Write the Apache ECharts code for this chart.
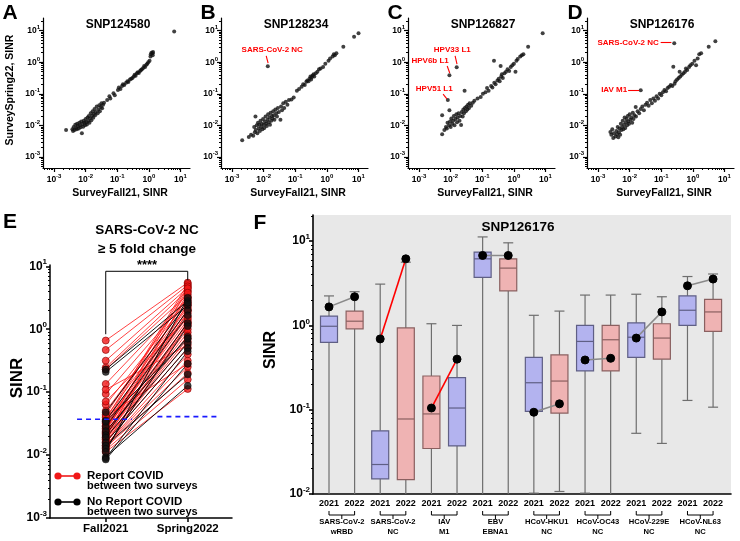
<!DOCTYPE html>
<html>
<head>
<meta charset="utf-8">
<script src="https://cdn.jsdelivr.net/npm/echarts@6/dist/echarts.min.js"></script>
<style>
html, body { margin: 0; background: #fff; }
#chart { width: 740px; height: 541px; }
</style>
</head>
<body>
<div id="chart"></div>
<script>
var FONT = "'Liberation Sans', Arial, sans-serif";

// panels A-D: [log10 SurveyFall21 SINR, log10 SurveySpring22 SINR]
var snpA = [[-2.62,-2.15],[-2.42,-2.12],[-2.40,-2.18],[-2.38,-2.05],[-2.35,-2.15],[-2.33,-1.98],[-2.30,-2.08],[-2.28,-2.12],
  [-2.27,-1.95],[-2.25,-2.02],[-2.22,-2.10],[-2.20,-1.92],[-2.18,-2.00],[-2.16,-2.06],[-2.14,-1.88],[-2.12,-2.25],[-2.10,-1.96],
  [-2.08,-2.04],[-2.06,-1.85],[-2.04,-1.92],[-2.02,-2.00],[-2.00,-1.80],[-1.98,-1.90],[-1.96,-1.97],[-1.94,-1.75],[-1.92,-1.86],
  [-1.90,-1.70],[-1.88,-1.92],[-1.86,-1.78],[-1.84,-1.62],[-1.82,-1.84],[-1.80,-1.70],[-1.78,-1.55],[-1.76,-1.76],[-1.74,-1.64],
  [-1.72,-1.48],[-1.70,-1.68],[-1.68,-1.58],[-1.65,-1.40],[-1.62,-1.62],[-1.60,-1.50],[-1.57,-1.36],[-1.55,-1.55],[-1.52,-1.42],
  [-1.50,-1.30],[-1.48,-1.46],[-1.45,-1.35],[-1.42,-1.28],[-1.32,-1.20],[-1.25,-1.08],[-1.22,-1.15],[-1.12,-0.98],[-1.08,-1.05],
  [-0.98,-0.88],[-0.95,-0.80],[-0.90,-0.85],[-0.85,-0.75],[-0.82,-0.70],[-0.78,-0.72],[-0.72,-0.65],[-0.68,-0.60],[-0.65,-0.63],
  [-0.60,-0.55],[-0.56,-0.52],[-0.52,-0.50],[-0.48,-0.45],[-0.45,-0.40],[-0.42,-0.43],[-0.38,-0.35],[-0.35,-0.32],[-0.32,-0.34],
  [-0.28,-0.28],[-0.25,-0.25],[-0.22,-0.22],[-0.18,-0.18],[-0.15,-0.12],[-0.12,-0.15],[-0.08,-0.08],[-0.05,-0.05],[-0.02,0.00],
  [0.02,0.05],[0.05,0.18],[0.06,0.25],[0.08,0.30],[0.12,0.22],[0.12,0.28],[0.13,0.32],[0.80,0.97]];
var snpB = [[-2.68,-2.47],[-2.47,-2.37],[-2.40,-2.30],[-2.33,-2.33],[-2.30,-2.05],[-2.28,-2.22],[-2.25,-2.15],[-2.26,-1.72],
  [-2.22,-2.00],[-2.20,-2.25],[-2.18,-1.92],[-2.16,-2.10],[-2.14,-1.98],[-2.12,-2.18],[-2.10,-1.85],[-2.08,-2.05],[-2.06,-1.95],
  [-2.04,-2.12],[-2.02,-1.80],[-2.00,-1.98],[-1.98,-2.08],[-1.96,-1.88],[-1.94,-1.72],[-1.92,-1.95],[-1.90,-2.02],[-1.88,-1.82],
  [-1.86,-1.65],[-1.84,-1.90],[-1.82,-1.75],[-1.80,-1.98],[-1.78,-1.60],[-1.76,-1.85],[-1.74,-1.70],[-1.72,-1.78],[-1.70,-1.55],
  [-1.68,-1.68],[-1.66,-1.82],[-1.63,-1.50],[-1.60,-1.62],[-1.58,-1.72],[-1.55,-1.45],[-1.52,-1.58],[-1.47,-1.82],[-1.45,-1.40],
  [-1.42,-1.52],[-1.38,-1.30],[-1.35,-1.45],[-1.30,-1.25],[-1.25,-1.35],[-1.20,-1.20],[-1.12,-1.18],[-1.05,-1.12],[-0.95,-0.90],
  [-0.88,-0.85],[-0.80,-0.78],[-0.75,-0.70],[-0.70,-0.72],[-0.65,-0.62],[-0.62,-0.58],[-0.58,-0.60],[-0.55,-0.52],[-0.52,-0.45],
  [-0.50,-0.55],[-0.48,-0.48],[-0.45,-0.42],[-0.42,-0.38],[-0.40,-0.45],[-0.35,-0.35],[-0.30,-0.30],[-0.25,-0.22],[-0.20,-0.20],
  [-0.12,-0.15],[-0.05,-0.05],[0.05,0.05],[0.10,0.12],[0.18,0.18],[0.22,0.25],[0.25,0.22],[0.30,0.28],[0.52,0.49],[0.86,0.81],
  [1.00,0.92],[-1.87,-0.13]];
var snpC = [[-2.27,-2.28],[-2.20,-2.15],[-2.15,-2.05],[-2.27,-1.68],[-2.12,-2.10],[-2.10,-1.92],[-2.05,-2.00],[-2.04,-1.52],
  [-2.02,-1.88],[-2.00,-2.05],[-1.98,-1.78],[-1.95,-1.95],[-1.92,-1.85],[-1.90,-1.70],[-1.88,-2.00],[-1.85,-1.80],[-1.82,-1.65],
  [-1.80,-1.90],[-1.78,-1.75],[-1.75,-1.62],[-1.72,-1.85],[-1.70,-1.70],[-1.67,-1.99],[-1.65,-1.58],[-1.62,-1.72],[-1.60,-1.50],
  [-1.58,-1.62],[-1.55,-1.45],[-1.52,-1.55],[-1.50,-1.40],[-1.47,-1.50],[-1.45,-1.35],[-1.42,-1.45],[-1.40,-1.30],[-1.35,-1.38],
  [-1.30,-1.28],[-1.25,-1.22],[-1.56,-0.90],[-1.15,-1.15],[-1.05,-1.10],[-0.98,-1.00],[-0.90,-0.95],[-0.85,-0.82],[-0.80,-0.90],
  [-0.72,-0.75],[-0.68,-0.80],[-0.62,-0.65],[-0.58,-0.70],[-0.52,-0.58],[-0.48,-0.52],[-0.45,-0.60],[-0.40,-0.45],[-0.38,-0.38],
  [-0.35,-0.50],[-0.30,-0.35],[-0.25,-0.30],[-0.20,-0.22],[-0.15,-0.28],[-0.10,-0.15],[-0.05,-0.10],[-0.63,0.05],[-0.42,-0.12],
  [0.00,-0.05],[0.05,-0.30],[0.08,0.05],[0.12,0.10],[0.20,0.18],[0.25,0.22],[0.30,0.25],[0.45,0.49],[0.91,0.92],
  [-1.81,-0.16],[-2.04,-0.41],[-2.09,-1.20]];
var snpD = [[-2.61,-2.21],[-2.58,-2.30],[-2.55,-2.12],[-2.52,-2.40],[-2.50,-2.25],[-2.45,-2.35],[-2.42,-2.18],[-2.40,-2.28],
  [-2.38,-2.05],[-2.36,-2.38],[-2.34,-2.22],[-2.32,-2.10],[-2.30,-2.30],[-2.28,-1.95],[-2.26,-2.15],[-2.24,-2.05],[-2.22,-1.85],
  [-2.20,-2.12],[-2.18,-1.98],[-2.16,-1.75],[-2.14,-2.08],[-2.12,-1.90],[-2.10,-1.80],[-2.08,-2.00],[-2.06,-1.70],[-2.04,-1.88],
  [-2.02,-1.95],[-2.00,-1.65],[-1.98,-1.82],[-1.95,-1.75],[-1.92,-1.92],[-1.90,-1.60],[-1.88,-1.80],[-1.85,-1.68],[-1.81,-1.42],
  [-1.80,-1.72],[-1.75,-1.55],[-1.70,-1.62],[-1.65,-1.48],[-1.60,-1.40],[-1.55,-1.52],[-1.50,-1.35],[-1.45,-1.28],[-1.40,-1.38],
  [-1.35,-1.20],[-1.30,-1.30],[-1.25,-1.15],[-1.20,-1.22],[-1.15,-1.08],[-1.10,-1.15],[-1.05,-1.00],[-1.00,-1.05],[-0.95,-0.95],
  [-0.90,-0.88],[-0.85,-0.92],[-0.80,-0.82],[-0.75,-0.78],[-0.70,-0.72],[-0.65,-0.75],[-0.62,-0.14],[-0.58,-0.68],[-0.55,-0.60],
  [-0.50,-0.55],[-0.45,-0.50],[-0.42,-0.30],[-0.40,-0.45],[-0.35,-0.40],[-0.30,-0.35],[-0.25,-0.30],[-0.22,-0.20],[-0.18,-0.25],
  [-0.12,-0.15],[-0.08,-0.10],[-0.02,-0.05],[0.05,0.05],[0.10,-0.10],[0.15,0.12],[0.20,0.25],[0.26,0.28],[0.50,0.49],[0.71,0.66],
  [-0.59,0.60],[-1.65,-0.89]];
var scatterTitles = ['SNP124580', 'SNP128234', 'SNP126827', 'SNP126176'];
var decades = [-3, -2, -1, 0, 1];

// panel E: log10 SINR, Fall2021 -> Spring2022
var eRedFall = [-0.18,-0.33,-0.50,-0.61,-0.64,-0.87,-1.03,-1.20,-1.30,-1.36,-1.40,-1.44,-1.47,-1.48,-1.50,-1.53,-1.55,-1.57,
  -1.58,-1.60,-1.62,-1.64,-1.65,-1.66,-1.68,-1.70,-1.72,-1.74,-1.75,-1.76,-1.78,-1.80,-1.82,-1.84,-1.85,-1.86,-1.88,-1.90,-1.92,
  -1.95,-0.96,-1.15,-1.38];
var eRedSpring = [0.74,0.70,0.66,0.62,0.55,0.50,0.48,0.45,0.42,0.60,0.38,0.72,0.35,0.68,0.30,0.25,0.52,0.20,
  0.15,0.65,0.40,0.10,0.05,0.32,0.00,-0.05,0.58,-0.10,-0.15,0.28,-0.20,-0.30,0.12,-0.40,-0.50,-0.60,-0.70,0.08,-0.80,
  -0.95,-0.25,0.18,-0.55];
var eBlackFall = [-0.64,-0.68,-1.32,-1.45,-1.55,-1.62,-1.68,-1.72,-1.80,-1.85,-1.90,-2.03,-2.05,-2.07,-1.47,-1.95];
var eBlackSpring = [0.45,0.38,0.42,0.30,0.22,-0.12,0.10,-0.22,-0.30,-0.72,0.05,-0.90,-0.35,-0.55,-0.15,0.50];
var eCutoff = [-1.43, -1.39];

// panel F: SNP126176 box stats, log10 [min, q1, median, q3, max]
var fYears = ['2021','2022','2021','2022','2021','2022','2021','2022','2021','2022','2021','2022','2021','2022','2021','2022'];
var fGroups = ['SARS-CoV-2\nwRBD', 'SARS-CoV-2\nNC', 'IAV\nM1', 'EBV\nEBNA1', 'HCoV-HKU1\nNC', 'HCoV-OC43\nNC', 'HCoV-229E\nNC', 'HCoV-NL63\nNC'];
var fBoxes = [
  [-2.2, -0.20, -0.01, 0.11, 0.35], [-2.2, -0.04, 0.05, 0.17, 0.40],
  [-2.2, -1.82, -1.65, -1.25, 0.49], [-2.2, -1.83, -1.11, -0.03, 0.75],
  [-2.2, -1.46, -1.05, -0.60, 0.02], [-2.2, -1.43, -0.98, -0.62, 0.00],
  [-2.2, 0.57, 0.79, 0.87, 1.05], [-2.2, 0.41, 0.68, 0.79, 0.98],
  [-1.99, -1.02, -0.68, -0.38, 0.12], [-1.97, -1.04, -0.66, -0.35, 0.17],
  [-1.99, -0.54, -0.19, 0.00, 0.36], [-2.2, -0.54, -0.17, 0.00, 0.36],
  [-1.28, -0.38, -0.14, 0.03, 0.37], [-1.40, -0.40, -0.15, 0.02, 0.34],
  [-0.89, 0.00, 0.18, 0.35, 0.58], [-0.97, -0.07, 0.16, 0.31, 0.61]];
var fBoxTone = ['b','p','b','p','p','b','b','p','b','p','b','p','b','p','b','p'];
var fSample = [0.22, 0.34, -0.16, 0.79, -0.98, -0.40, 0.83, 0.83, -1.03, -0.93, -0.41, -0.39, -0.15, 0.16, 0.47, 0.55];
var fPairColor = ['#8a8a8a', '#ff0000', '#ff0000', '#8a8a8a', '#8a8a8a', '#8a8a8a', '#8a8a8a', '#8a8a8a'];

var chart = echarts.init(document.getElementById('chart'));

function decadeLabel(fs) {
    var sub = Math.round(fs * 0.68);
    return {
        formatter: function (v) { return '{b|10}{s|' + Math.round(v) + '}'; },
        rich: {
            b: {fontFamily: FONT, fontWeight: 'bold', fontSize: fs, lineHeight: fs + 4, color: '#000'},
            s: {fontFamily: FONT, fontWeight: 'bold', fontSize: sub, lineHeight: sub, verticalAlign: 'top', color: '#000'}
        }
    };
}
function minorTicks(lo, hi) {
    var out = [];
    for (var d = Math.floor(lo); d < hi; d++) {
        for (var k = 2; k < 10; k++) {
            var v = d + Math.log10(k);
            if (v > lo && v < hi) out.push(v);
        }
    }
    return out;
}
function logAxis(grid, pos, ext, fs, margin, lw) {
    var label = decadeLabel(fs);
    label.show = true;
    label.customValues = decades.filter(function (d) { return d >= ext[0] && d <= ext[1]; });
    label.margin = margin;
    return {
        gridIndex: grid, type: 'value', position: pos, min: ext[0], max: ext[1],
        axisLine: {show: true, onZero: false, lineStyle: {color: '#000', width: lw}},
        axisTick: {show: true, customValues: label.customValues, length: 4, lineStyle: {color: '#000', width: lw}},
        axisLabel: label,
        splitLine: {show: false}
    };
}
function minorAxis(grid, pos, ext, lw) {
    return {
        gridIndex: grid, type: 'value', position: pos, min: ext[0], max: ext[1],
        axisLine: {show: false, onZero: false},
        axisTick: {show: true, customValues: minorTicks(ext[0], ext[1]), length: 2, lineStyle: {color: '#000', width: lw}},
        axisLabel: {show: false},
        splitLine: {show: false}
    };
}

var grids = [], xAxes = [], yAxes = [], series = [];
var scatterLeft = [43, 221, 408, 587];
var scatterSets = [snpA, snpB, snpC, snpD];
var xExt = [-3.35, 1.3], yExt = [-3.35, 1.4];

// annotations in data coordinates (label centre, arrow start, arrow end)
var notes = [
    [],
    [{text: 'SARS-CoV-2 NC', at: [-1.73, 0.39], from: [-1.92, 0.20], to: [-1.86, -0.03]}],
    [{text: 'HPV33 L1', at: [-1.95, 0.39], from: [-1.86, 0.20], to: [-1.80, -0.06]},
     {text: 'HPV6b L1', at: [-2.65, 0.04], from: [-2.11, -0.12], to: [-2.03, -0.34]},
     {text: 'HPV51 L1', at: [-2.52, -0.85], from: [-2.24, -1.01], to: [-2.12, -1.16]}],
    [{text: 'SARS-CoV-2 NC', at: [-2.05, 0.62], from: [-1.02, 0.62], to: [-0.68, 0.62]},
     {text: 'IAV M1', at: [-2.49, -0.87], from: [-2.05, -0.88], to: [-1.70, -0.88]}]
];

scatterLeft.forEach(function (left, k) {
    grids.push({left: left, top: 18, width: 147, height: 150, outerBoundsMode: 'none'});
    xAxes.push(logAxis(k, 'bottom', xExt, 8.5, 5, 1.2));
    xAxes.push(minorAxis(k, 'bottom', xExt, 1));
    yAxes.push(logAxis(k, 'left', yExt, 8.5, 3, 1.2));
    yAxes.push(minorAxis(k, 'left', yExt, 1));
    var s = {
        type: 'scatter', xAxisIndex: 2 * k, yAxisIndex: 2 * k, data: scatterSets[k],
        symbolSize: 4, itemStyle: {color: '#111'}, silent: true, z: 3
    };
    if (notes[k].length) {
        s.markLine = {
            silent: true, symbol: ['none', 'arrow'], symbolSize: [0, 5], animation: false,
            lineStyle: {color: '#ff0000', width: 1.1, type: 'solid'}, label: {show: false},
            data: notes[k].map(function (n) { return [{coord: n.from}, {coord: n.to}]; })
        };
        s.markPoint = {
            silent: true, symbol: 'rect', symbolSize: 1, itemStyle: {color: 'rgba(0,0,0,0)'}, animation: false,
            label: {show: true, position: 'inside', color: '#ff0000', fontSize: 8, fontWeight: 'bold', fontFamily: FONT},
            data: notes[k].map(function (n) { return {coord: n.at, value: n.text, label: {formatter: n.text}}; })
        };
    }
    series.push(s);
});

// panel E
grids.push({left: 50, top: 265, width: 182, height: 253, outerBoundsMode: 'none'});
xAxes.push({
    gridIndex: 4, type: 'value', position: 'bottom', min: -0.68, max: 1.54,
    axisLine: {show: true, onZero: false, lineStyle: {color: '#000', width: 1.5}},
    axisTick: {show: true, customValues: [0, 1], length: 4, lineStyle: {color: '#000', width: 1.5}},
    axisLabel: {show: true, customValues: [0, 1], margin: 5, color: '#000', fontFamily: FONT, fontWeight: 'bold', fontSize: 11.5,
        formatter: function (v) { return v < 0.5 ? 'Fall2021' : 'Spring2022'; }},
    splitLine: {show: false}
});
yAxes.push(logAxis(4, 'left', [-3, 1.02], 12, 3, 1.5));
yAxes.push(minorAxis(4, 'left', [-3, 1.02], 1.2));

eRedFall.forEach(function (f, i) {
    series.push({type: 'line', xAxisIndex: 8, yAxisIndex: 8, data: [[0, f], [1, eRedSpring[i]]], symbol: 'none',
        silent: true, z: 2, lineStyle: {color: 'rgba(255,20,20,0.8)', width: 1}});
});
eBlackFall.forEach(function (f, i) {
    series.push({type: 'line', xAxisIndex: 8, yAxisIndex: 8, data: [[0, f], [1, eBlackSpring[i]]], symbol: 'none',
        silent: true, z: 2, lineStyle: {color: '#000', width: 0.9}});
});
series.push({type: 'scatter', xAxisIndex: 8, yAxisIndex: 8, silent: true, z: 4, symbolSize: 7,
    itemStyle: {color: '#f01818', borderColor: '#8a0000', borderWidth: 0.8},
    data: eRedFall.map(function (v) { return [0, v]; }).concat(eRedSpring.map(function (v) { return [1, v]; }))});
series.push({type: 'scatter', xAxisIndex: 8, yAxisIndex: 8, silent: true, z: 5, symbolSize: 7,
    itemStyle: {color: '#111', borderColor: '#000', borderWidth: 0.5},
    data: eBlackFall.map(function (v) { return [0, v]; }).concat(eBlackSpring.map(function (v) { return [1, v]; }))});
series.push({type: 'line', xAxisIndex: 8, yAxisIndex: 8, silent: true, z: 6, symbol: 'none',
    lineStyle: {color: '#1a1aff', width: 1.6, type: [5, 4]}, data: [[-0.35, eCutoff[0]], [0.32, eCutoff[0]]]});
series.push({type: 'line', xAxisIndex: 8, yAxisIndex: 8, silent: true, z: 6, symbol: 'none',
    lineStyle: {color: '#1a1aff', width: 1.6, type: [5, 4]}, data: [[0.63, eCutoff[1]], [1.37, eCutoff[1]]]});
series.push({type: 'line', xAxisIndex: 8, yAxisIndex: 8, silent: true, z: 6, symbol: 'none',
    lineStyle: {color: '#000', width: 1}, data: [[0, -0.08], [0, 0.92], [1, 0.92], [1, 0.78]]});

// panel F
grids.push({left: 313, top: 215, width: 418, height: 279, outerBoundsMode: 'none',
    show: true, backgroundColor: '#e8e8e8', borderWidth: 0});
xAxes.push({
    gridIndex: 5, type: 'value', position: 'bottom', min: -0.625, max: 15.7,
    axisLine: {show: true, onZero: false, lineStyle: {color: '#000', width: 1.6}},
    axisTick: {show: false},
    axisLabel: {show: true, customValues: fYears.map(function (y, i) { return i; }), margin: 5, color: '#000',
        fontFamily: FONT, fontWeight: 'bold', fontSize: 9,
        formatter: function (v) { return fYears[Math.round(v)]; }},
    splitLine: {show: false}
});
yAxes.push(logAxis(5, 'left', [-2, 1.31], 12, 3, 1.6));
yAxes.push(minorAxis(5, 'left', [-2, 1.31], 1.2));

series.push({
    type: 'custom', xAxisIndex: 9, yAxisIndex: 10, silent: true, z: 2,
    data: fBoxes.map(function (b, i) { return [i].concat(b); }),
    renderItem: function (params, api) {
        var i = api.value(0);
        var cs = params.coordSys;
        var bottom = cs.y + cs.height;
        var pMin = api.coord([i, api.value(1)]);
        var pQ1 = api.coord([i, api.value(2)]);
        var pMed = api.coord([i, api.value(3)]);
        var pQ3 = api.coord([i, api.value(4)]);
        var pMax = api.coord([i, api.value(5)]);
        var x = pMed[0], half = 8.5, cap = 5;
        var blue = fBoxTone[params.dataIndex] === 'b';
        var fill = blue ? '#b3b3ef' : '#efb3b3';
        var edge = blue ? '#5f5f85' : '#8a6060';
        var whisk = {stroke: '#6e6e6e', lineWidth: 1.2};
        var kids = [
            {type: 'line', shape: {x1: x, y1: pQ3[1], x2: x, y2: pMax[1]}, style: whisk},
            {type: 'line', shape: {x1: x - cap, y1: pMax[1], x2: x + cap, y2: pMax[1]}, style: whisk},
            {type: 'line', shape: {x1: x, y1: pQ1[1], x2: x, y2: Math.min(pMin[1], bottom)}, style: whisk}
        ];
        if (pMin[1] < bottom) {
            kids.push({type: 'line', shape: {x1: x - cap, y1: pMin[1], x2: x + cap, y2: pMin[1]}, style: whisk});
        }
        kids.push({type: 'rect', shape: {x: x - half, y: pQ3[1], width: 2 * half, height: pQ1[1] - pQ3[1]},
            style: {fill: fill, stroke: edge, lineWidth: 1.2}});
        kids.push({type: 'line', shape: {x1: x - half, y1: pMed[1], x2: x + half, y2: pMed[1]},
            style: {stroke: edge, lineWidth: 1.2}});
        return {type: 'group', children: kids};
    }
});
fPairColor.forEach(function (c, k) {
    series.push({type: 'line', xAxisIndex: 9, yAxisIndex: 10, silent: true, z: 4,
        data: [[2 * k, fSample[2 * k]], [2 * k + 1, fSample[2 * k + 1]]],
        symbol: 'circle', symbolSize: 8, itemStyle: {color: '#000', borderColor: '#000'},
        lineStyle: {color: c, width: 1.6}});
});

chart.setOption({
    animation: false,
    backgroundColor: '#fff',
    grid: grids,
    xAxis: xAxes,
    yAxis: yAxes,
    series: series
});

function txt(x, y, text, size, extra) {
    var st = {text: text, x: 0, y: 0, fill: (extra && extra.fill) || '#000',
        font: 'bold ' + size + 'px ' + FONT,
        align: (extra && extra.align) || 'center', textAlign: (extra && extra.align) || 'center',
        verticalAlign: 'middle', textVerticalAlign: 'middle',
        lineHeight: (extra && extra.lineHeight) || size + 2};
    return {type: 'text', x: x, y: y, rotation: (extra && extra.rotation) || 0, z: 100, style: st, silent: true};
}

var g = [];
[['A', 10, 13], ['B', 208, 13], ['C', 395, 13], ['D', 575, 13], ['E', 10, 222], ['F', 260, 223]].forEach(function (l) {
    g.push(txt(l[1], l[2], l[0], 21));
});
scatterLeft.forEach(function (left, k) {
    g.push(txt(left + 75, 25, scatterTitles[k], 12));
    g.push(txt(left + 77, 193, 'SurveyFall21, SINR', 10.5));
});
g.push(txt(10, 90, 'SurveySpring22, SINR', 10.5, {rotation: Math.PI / 2}));

g.push(txt(147, 230, 'SARS-CoV-2 NC', 13.5));
g.push(txt(147, 249, '\u2265 5 fold change', 13.5));
g.push(txt(147, 265, '****', 13));
g.push(txt(17, 378, 'SINR', 17, {rotation: Math.PI / 2}));
[['#f01818', 'Report COVID', 476], ['#000', 'No Report COVID', 502]].forEach(function (it) {
    var y = it[2];
    g.push({type: 'line', z: 100, shape: {x1: 58, y1: y, x2: 77, y2: y}, style: {stroke: it[0], lineWidth: 1.6}});
    g.push({type: 'circle', z: 100, shape: {cx: 58, cy: y, r: 3.6}, style: {fill: it[0]}});
    g.push({type: 'circle', z: 100, shape: {cx: 77, cy: y, r: 3.6}, style: {fill: it[0]}});
    g.push(txt(87, y, it[1], 11.5, {align: 'left'}));
    g.push(txt(87, y + 9.5, 'between two surveys', 11, {align: 'left'}));
});

g.push(txt(518, 227, 'SNP126176', 13.5));
g.push(txt(271, 350, 'SINR', 16, {rotation: Math.PI / 2}));
fGroups.forEach(function (name, k) {
    var a = chart.convertToPixel({xAxisIndex: 9, yAxisIndex: 10}, [2 * k, -2]);
    var b = chart.convertToPixel({xAxisIndex: 9, yAxisIndex: 10}, [2 * k + 1, -2]);
    var y = 515, mid = (a[0] + b[0]) / 2;
    g.push({type: 'polyline', z: 100, shape: {points: [[a[0], y - 4], [a[0], y], [b[0], y], [b[0], y - 4]]},
        style: {stroke: '#000', lineWidth: 1, fill: null}});
    g.push({type: 'line', z: 100, shape: {x1: mid, y1: y, x2: mid, y2: y + 4}, style: {stroke: '#000', lineWidth: 1}});
    g.push(txt(mid, y + 12, name, 7.6, {lineHeight: 10}));
});

chart.setOption({graphic: g});
</script>
</body>
</html>
